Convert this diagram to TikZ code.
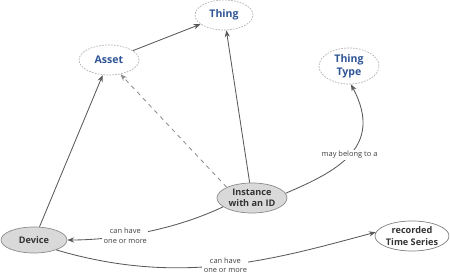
\documentclass[tikz,border=0pt]{standalone}
\usepackage{fontspec}
\setmainfont{Open Sans}
\usetikzlibrary{positioning, arrows.meta, shapes.geometric}
\definecolor{cCONCEPT}{HTML}{2F5597}
\definecolor{cLINE}{HTML}{595959}
\tikzset{
  concept/.style={
    ellipse, draw=black!30, dash pattern=on 1.2pt off 0.9pt,
    fill=white, text=cCONCEPT, line width=0.5pt,
    inner sep=0pt, align=center,
    font=\fontsize{7.5}{9}\selectfont\bfseries
  },
  entity/.style={
    ellipse, draw=black!45, fill=black!15,
    text=black!80, line width=0.5pt,
    inner sep=0pt, align=center,
    font=\fontsize{6.5}{8}\selectfont\bfseries
  },
  record/.style={
    ellipse, draw=black!50, fill=white,
    text=black!80, line width=0.5pt,
    inner sep=0pt, align=center,
    font=\fontsize{6.5}{8}\selectfont\bfseries
  },
  link/.style={
    -{Stealth[length=1.7mm,width=1.3mm]},
    line width=0.6pt,
    draw=cLINE
  },
  linklabel/.style={
    font=\fontsize{5.3}{6.8}\selectfont,
    text=black!75,
    fill=white,
    inner sep=1pt,
    align=center
  }
}

\begin{document}
\begin{tikzpicture}[x=0.025cm, y=0.025cm]
  \useasboundingbox (0,0) rectangle (450,276);

  \node[concept, minimum width=1.45cm, minimum height=0.75cm] (thing) at (224,261) {Thing};
  \node[concept, minimum width=1.5cm, minimum height=0.75cm] (asset) at (109,216) {Asset};
  \node[concept, minimum width=1.5cm, minimum height=0.9cm] (ttype) at (349,210) {Thing\\Type};
  \node[entity, minimum width=1.75cm, minimum height=0.75cm] (inst) at (252,78) {Instance\\with an ID};
  \node[entity, minimum width=1.65cm, minimum height=0.65cm] (device) at (34,36) {Device};
  \node[record, minimum width=1.85cm, minimum height=0.75cm] (series) at (412,40) {recorded\\Time Series};

  \draw[link] (asset) -- (thing);
  \draw[link] (device) -- (asset);
  \draw[link, dashed, draw=black!45] (inst.157) -- (asset.-51);
  \draw[link] (inst) -- (thing);
  \draw[link] (inst.8) .. controls (335,104) and (385,128) .. (ttype.-84)
    node[linklabel, pos=0.5] {may belong to a};
  \draw[link] (inst.197) .. controls (170,44) and (110,36) .. (device.east)
    node[linklabel, pos=0.6] {can have\\one or more};
  \draw[link] (device.-24) .. controls (182,-11) and (275,17) .. (series.174)
    node[linklabel, pos=0.5] {can have\\one or more};
\end{tikzpicture}
\end{document}
